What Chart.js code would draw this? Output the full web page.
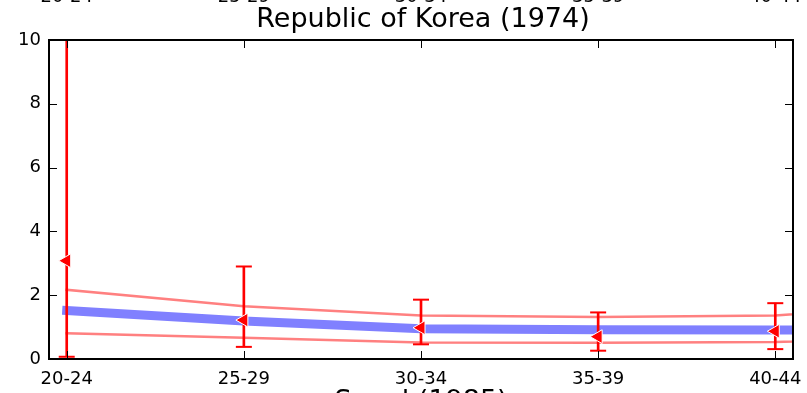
<!DOCTYPE html>
<html>
<head>
<meta charset="utf-8">
<script src="https://cdn.jsdelivr.net/npm/chart.js@4/dist/chart.umd.min.js"></script>
<style>
  html, body { margin: 0; padding: 0; background: #fff; }
  #wrap { width: 807px; height: 393px; }
</style>
</head>
<body>
<div id="wrap"><canvas id="grafico" width="807" height="393"></canvas></div>
<script>
// datos
const ageGroups = ['20-24', '25-29', '30-34', '35-39', '40-44', '45-49'];
const midLine   = [1.52, 1.19, 0.95, 0.92, 0.91, 0.91];
const upperLine = [2.17, 1.65, 1.36, 1.32, 1.36, 1.75];
const lowerLine = [0.81, 0.67, 0.52, 0.51, 0.53, 0.72];
const observed  = [3.08, 1.22, 0.98, 0.70, 0.87];
const errLow    = [0.07, 0.38, 0.46, 0.26, 0.31];
const errHigh   = [11.0, 2.90, 1.86, 1.46, 1.75];
const yTicks    = [0, 2, 4, 6, 8, 10];
const titulo = 'Republic of Korea (1974)';
const etiquetaX = 'Seoul (1985)';

const shown = ageGroups.slice(0, 5);
const pts = arr => arr.map((v, i) => ({ x: i, y: v }));

const fuente = 'DejaVu Sans';

// marco, marcas hacia dentro y textos al estilo matplotlib
const marco = {
  id: 'marco',
  afterDraw(chart) {
    const { ctx, chartArea: a, scales } = chart;
    const xs = scales.x, ys = scales.y;
    ctx.save();
    ctx.strokeStyle = '#000';
    ctx.lineWidth = 1;
    ctx.beginPath();
    shown.forEach((_, i) => {
      const px = Math.round(xs.getPixelForValue(i)) + 0.5;
      ctx.moveTo(px, a.bottom); ctx.lineTo(px, a.bottom - 8);
      ctx.moveTo(px, a.top); ctx.lineTo(px, a.top + 8);
    });
    yTicks.forEach(v => {
      const py = Math.round(ys.getPixelForValue(v)) + 0.5;
      ctx.moveTo(a.left, py); ctx.lineTo(a.left + 8, py);
      ctx.moveTo(a.right, py); ctx.lineTo(a.right - 8, py);
    });
    ctx.stroke();
    ctx.lineWidth = 2;
    ctx.strokeRect(a.left, a.top, a.right - a.left, a.bottom - a.top);

    ctx.fillStyle = '#000';
    ctx.font = '18px "' + fuente + '"';
    ctx.textAlign = 'right';
    ctx.textBaseline = 'middle';
    yTicks.forEach(v => ctx.fillText(String(v), a.left - 8, ys.getPixelForValue(v)));
    ctx.textAlign = 'center';
    ctx.textBaseline = 'alphabetic';
    shown.forEach((lab, i) => {
      const px = xs.getPixelForValue(i);
      ctx.fillText(lab, px, 384);
      ctx.fillText(lab, px, 2);
    });
    ctx.font = '27px "' + fuente + '"';
    const cx = (a.left + a.right) / 2;
    ctx.fillText(titulo, cx + 2, 27);
    ctx.fillText(etiquetaX, cx, 409);
    ctx.restore();
  }
};

new Chart(document.getElementById('grafico'), {
  type: 'line',
  data: {
    datasets: [
      {
        type: 'scatter', label: 'observed', order: 0,
        data: pts(observed),
        pointStyle: 'triangle', rotation: -90, pointRadius: 8,
        backgroundColor: '#ff0000', borderColor: '#ffffff', borderWidth: 1,
        clip: 0
      },
      {
        type: 'scatter', label: 'caps', order: 1,
        data: pts(errLow).concat(pts(errHigh)),
        pointStyle: 'line', pointRadius: 8,
        borderColor: '#ff0000', borderWidth: 2,
        clip: 0
      },
      {
        type: 'bar', label: 'stems', order: 2,
        data: errLow.map((v, i) => ({ x: i, y: [v, errHigh[i]] })),
        backgroundColor: '#ff0000', barThickness: 2,
        clip: 0
      },
      {
        label: 'mid', order: 3,
        data: pts(midLine),
        borderColor: '#8080ff', borderWidth: 9, borderCapStyle: 'square',
        pointRadius: 0, tension: 0, clip: 0
      },
      {
        label: 'upper', order: 4,
        data: pts(upperLine),
        borderColor: '#ff8080', borderWidth: 2.5, borderCapStyle: 'square',
        pointRadius: 0, tension: 0, clip: 0
      },
      {
        label: 'lower', order: 4,
        data: pts(lowerLine),
        borderColor: '#ff8080', borderWidth: 2.5, borderCapStyle: 'square',
        pointRadius: 0, tension: 0, clip: 0
      }
    ]
  },
  options: {
    responsive: false,
    animation: false,
    events: [],
    layout: { padding: { left: 49, top: 40, right: 14, bottom: 34 } },
    scales: {
      x: { type: 'linear', min: -0.1, max: 4.1, offset: false, display: false },
      y: { type: 'linear', min: 0, max: 10, display: false }
    },
    plugins: {
      legend: { display: false },
      title: { display: false },
      tooltip: { enabled: false }
    }
  },
  plugins: [marco]
});
</script>
</body>
</html>
